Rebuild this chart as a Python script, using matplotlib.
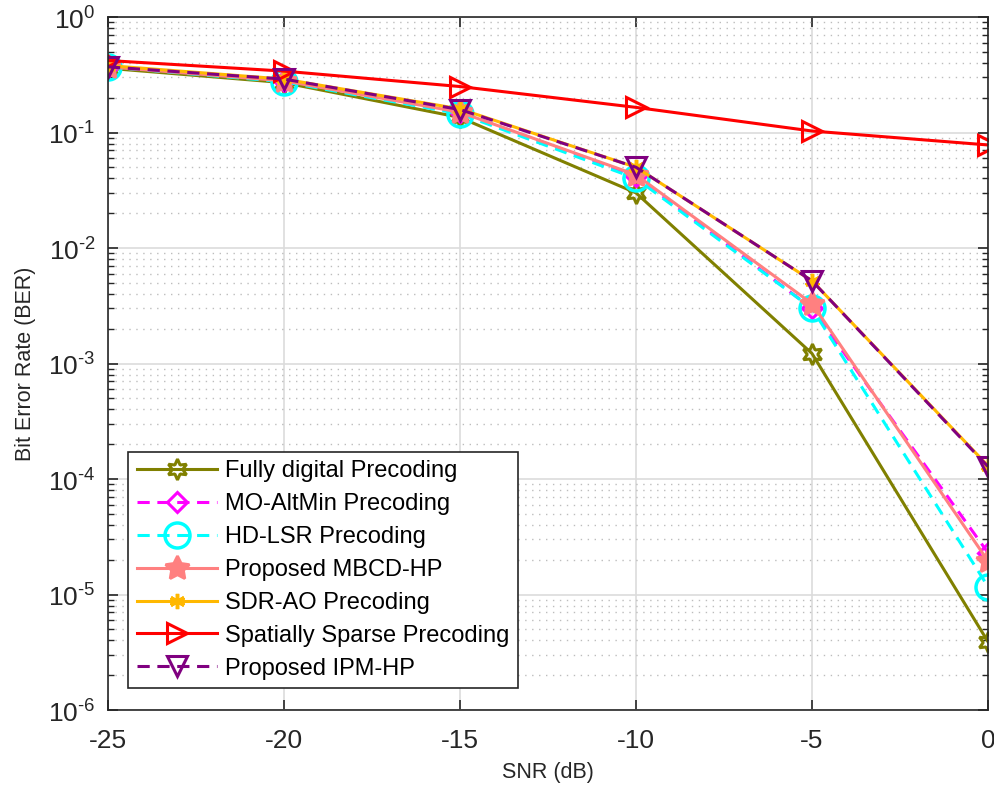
import matplotlib
matplotlib.use("Agg")
import matplotlib.pyplot as plt
from matplotlib.ticker import LogLocator, FixedLocator, FuncFormatter, NullLocator, NullFormatter
import numpy as np

plt.rcParams['font.family'] = ['Liberation Sans', 'DejaVu Sans']
plt.rcParams['mathtext.fontset'] = 'custom'
plt.rcParams['mathtext.rm'] = 'Liberation Sans'
plt.rcParams['axes.unicode_minus'] = False

snr = [-25, -20, -15, -10, -5, 0]

ber_fully_digital = [0.36, 0.27, 0.135, 0.030, 1.22e-3, 3.9e-6]
ber_mo_altmin = [0.37, 0.28, 0.15, 0.042, 3.0e-3, 2.3e-5]
ber_hd_lsr = [0.37, 0.275, 0.145, 0.040, 3.0e-3, 1.17e-5]
ber_mbcd = [0.37, 0.28, 0.15, 0.043, 3.3e-3, 1.95e-5]
ber_sdr_ao = [0.38, 0.29, 0.16, 0.050, 5.2e-3, 1.3e-4]
ber_sparse = [0.42, 0.34, 0.25, 0.165, 0.103, 0.078]
ber_ipm = [0.37, 0.29, 0.158, 0.050, 5.2e-3, 1.28e-4]

fig = plt.figure(figsize=(9.95, 7.96), dpi=100)
ax = fig.add_axes([108 / 995, 1 - 710 / 796, 880 / 995, 693 / 796])

lw = 2.2
dash = (0, (4, 2.5))
ax.plot(snr, ber_fully_digital, color=(0.5, 0.5, 0), lw=lw, marker=(6, 1, 0),
        ms=15, mfc='none', mew=2.2, label='Fully digital Precoding')
ax.plot(snr, ber_mo_altmin, color='magenta', lw=lw, ls=dash, marker='D',
        ms=10, mfc='none', mew=2.2, label='MO-AltMin Precoding')
ax.plot(snr, ber_hd_lsr, color='cyan', lw=lw, ls=dash, marker='o',
        ms=18, mfc='none', mew=2.5, label='HD-LSR Precoding')
ax.plot(snr, ber_mbcd, color=(1, 0.5, 0.5), lw=lw, marker=(5, 1, 0),
        ms=18, mfc=(1, 0.5, 0.5), mew=2.0, label='Proposed MBCD-HP')
ax.plot(snr, ber_sdr_ao, color=(1, 0.72, 0), lw=lw, marker=(6, 2, 0),
        ms=11, mew=2.5, label='SDR-AO Precoding')
ax.plot(snr, ber_sparse, color='red', lw=lw, marker='>',
        ms=14, mfc='none', mew=2.2, label='Spatially Sparse Precoding')
ax.plot(snr, ber_ipm, color=(0.5, 0, 0.5), lw=lw, ls=dash, marker='v',
        ms=14, mfc='none', mew=2.2, label='Proposed IPM-HP')

ax.set_yscale('log')
ax.set_xlim(-25, 0)
ax.set_ylim(1e-6, 1)
ax.xaxis.set_major_locator(FixedLocator(snr))
ax.xaxis.set_minor_locator(NullLocator())
ax.yaxis.set_major_locator(LogLocator(base=10, numticks=10))
ax.yaxis.set_minor_locator(LogLocator(base=10, subs=range(2, 10), numticks=100))
ax.yaxis.set_minor_formatter(NullFormatter())
ax.yaxis.set_major_formatter(FuncFormatter(
    lambda v, p: r'$10^{\text{-}%d}$' % round(-np.log10(v)) if v < 0.5 else r'$10^{0}$'))

ax.grid(True, which='major', color='#dcdcdc', lw=1.2, ls='-')
ax.yaxis.grid(True, which='minor', color='#bdbdbd', lw=1.0, ls=(0, (1, 4)))
ax.set_axisbelow(True)
ax.tick_params(which='both', direction='in', top=True, right=True,
               labelsize=19, colors='#262626')
ax.tick_params(axis='x', pad=14)
ax.tick_params(axis='y', pad=9)
ax.tick_params(which='major', length=7, width=1.2)
ax.tick_params(which='minor', length=4, width=1.0)
for sp in ax.spines.values():
    sp.set_color('#262626')
    sp.set_linewidth(1.2)

ax.set_xlabel('SNR (dB)', fontsize=15.5, color='#262626', labelpad=6)
ax.set_ylabel('Bit Error Rate (BER)', fontsize=15.5, color='#262626', labelpad=9)

leg = ax.legend(loc='lower left', bbox_to_anchor=(0.023, 0.032), borderaxespad=0,
                fontsize=17, fancybox=False, edgecolor='#262626', framealpha=1,
                handlelength=3.4, labelspacing=0.46, borderpad=0.35,
                handletextpad=0.35)
leg.get_frame().set_linewidth(1.2)

fig.savefig('out.png', dpi=100)
